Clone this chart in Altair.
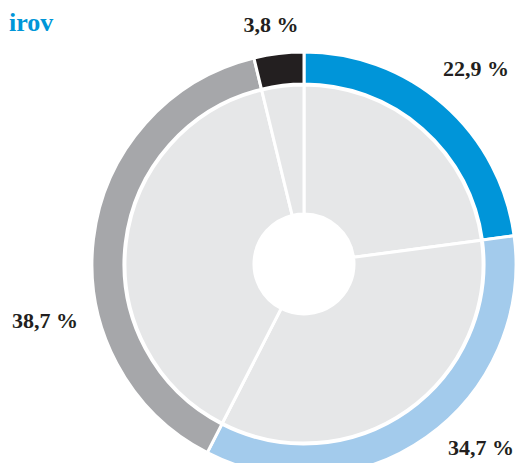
import altair as alt
import pandas as pd

categories = ["A", "B", "C", "D"]
values = [22.9, 34.7, 38.7, 3.8]
ring_colors = ["#0095d9", "#a3cbec", "#a6a7aa", "#231f20"]
labels = ["22,9 %", "34,7 %", "38,7 %", "3,8 %"]
title_text = "irov"

df = pd.DataFrame({"cat": categories, "value": values, "order": list(range(len(categories)))})

CX, CY = 296, 256  # arc centre within view

base = alt.Chart(df).encode(
    theta=alt.Theta("value:Q", stack=True),
    order=alt.Order("order:Q"),
    x=alt.value(CX),
    y=alt.value(CY),
)

ring = base.mark_arc(radius=212, radius2=180, stroke="white", strokeWidth=3).encode(
    color=alt.Color("cat:N", scale=alt.Scale(domain=categories, range=ring_colors), legend=None)
)

inner = base.mark_arc(radius=179, radius2=50, stroke="white", strokeWidth=3, color="#e6e7e8")

# label layout (annotation positions within the view)
label_pos = [(468, 68), (473, 447), (37, 320), (263, 24)]
text_layers = []
for lab, (lx, ly) in zip(labels, label_pos):
    text_layers.append(
        alt.Chart(pd.DataFrame({"label": [lab]})).mark_text(
            font="Liberation Serif", fontWeight="bold", fontSize=22,
            color="#231f20", align="center", baseline="alphabetic"
        ).encode(text="label:N", x=alt.value(lx), y=alt.value(ly))
    )

title = alt.Chart(pd.DataFrame({"t": [title_text]})).mark_text(
    font="Liberation Serif", fontWeight="bold", fontSize=26,
    color="#0096d8", align="left", baseline="alphabetic"
).encode(text="t:N", x=alt.value(1), y=alt.value(23))

chart = alt.layer(inner, ring, title, *text_layers).properties(
    width=508, height=455, padding=0, autosize=alt.AutoSizeParams(type="none")
).configure_view(stroke=None)

chart.save("out.html", embed_options={"renderer": "svg", "actions": False})
